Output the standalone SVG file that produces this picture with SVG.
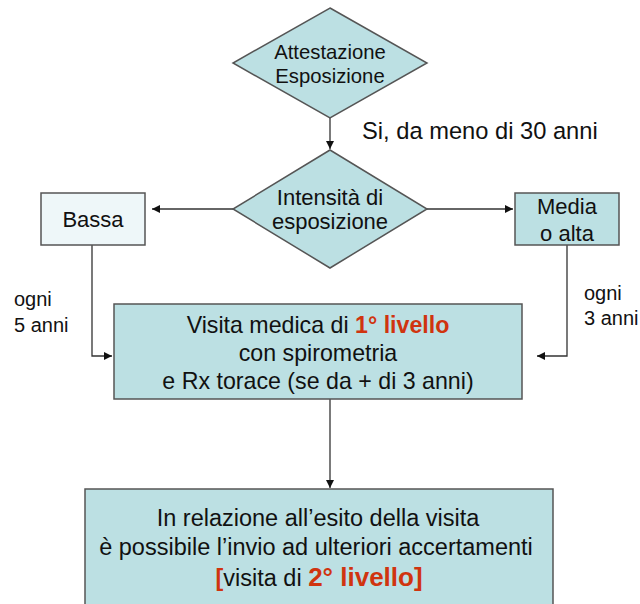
<svg xmlns="http://www.w3.org/2000/svg" width="640" height="604" viewBox="0 0 640 604">
<style>
.t{font-family:"Liberation Sans",Arial,sans-serif;fill:#111;}
.c{text-anchor:middle;}
.n{fill:#BCE0E3;stroke:#555;stroke-width:1.5;}
.l{fill:#EEF7F9;stroke:#555;stroke-width:1.5;}
.e{fill:none;stroke:#333;stroke-width:1.3;}
.r{fill:#D0340F;font-weight:bold;}
</style>
<defs>
<marker id="a" viewBox="0 0 10 10" refX="10" refY="5" markerWidth="8" markerHeight="8" markerUnits="userSpaceOnUse" orient="auto">
<path d="M0,0 L10,5 L0,10 z" fill="#111"/>
</marker>
</defs>
<rect width="640" height="604" fill="#fff"/>
<g id="connectors">
<path class="e" d="M330,118 V149" marker-end="url(#a)"/>
<path class="e" d="M233,209 H152" marker-end="url(#a)"/>
<path class="e" d="M427,209 H513" marker-end="url(#a)"/>
<path class="e" d="M92,245 V356 H112" marker-end="url(#a)"/>
<path class="e" d="M567,245 V356 H537" marker-end="url(#a)"/>
<path class="e" d="M330,399 V488" marker-end="url(#a)"/>
</g>
<g id="attestazione">
<polygon class="n" points="330,8 427,63 330,118 233,63"/>
<text class="t c" x="330" y="59" font-size="20.3">Attestazione</text>
<text class="t c" x="330" y="83" font-size="20.3">Esposizione</text>
</g>
<g id="label-si">
<text class="t" x="362" y="139" font-size="23.7">Si, da meno di 30 anni</text>
</g>
<g id="intensita">
<polygon class="n" points="330,150 427,209 330,268 233,209"/>
<text class="t c" x="330" y="205" font-size="22">Intensità di</text>
<text class="t c" x="330" y="229" font-size="22">esposizione</text>
</g>
<g id="bassa">
<rect class="l" x="41" y="193" width="104" height="52"/>
<text class="t c" x="93" y="227" font-size="22">Bassa</text>
</g>
<g id="media">
<rect class="n" x="515" y="193" width="104" height="52"/>
<text class="t c" x="567" y="214" font-size="22">Media</text>
<text class="t c" x="567" y="241" font-size="22">o alta</text>
</g>
<g id="label-5">
<text class="t" x="14" y="306" font-size="20">ogni</text>
<text class="t" x="14" y="332" font-size="20">5 anni</text>
</g>
<g id="label-3">
<text class="t" x="584" y="300" font-size="20">ogni</text>
<text class="t" x="584" y="325" font-size="20">3 anni</text>
</g>
<g id="visita1">
<rect class="n" x="114" y="304" width="408" height="95"/>
<text class="t c" x="318" y="333" font-size="23.2">Visita medica di <tspan class="r">1° livello</tspan></text>
<text class="t c" x="318" y="361" font-size="23.2">con spirometria</text>
<text class="t c" x="318" y="389" font-size="23.2">e Rx torace (se da + di 3 anni)</text>
</g>
<g id="esito">
<rect class="n" x="85" y="489" width="468" height="130"/>
<text class="t c" x="318" y="526" font-size="23.5">In relazione all’esito della visita</text>
<text class="t c" x="316" y="555" font-size="23.5">è possibile l’invio ad ulteriori accertamenti</text>
<text class="t c" x="319" y="586" font-size="23.5"><tspan class="r">[</tspan>visita di <tspan class="r" font-size="26">2° livello]</tspan></text>
</g>
</svg>
